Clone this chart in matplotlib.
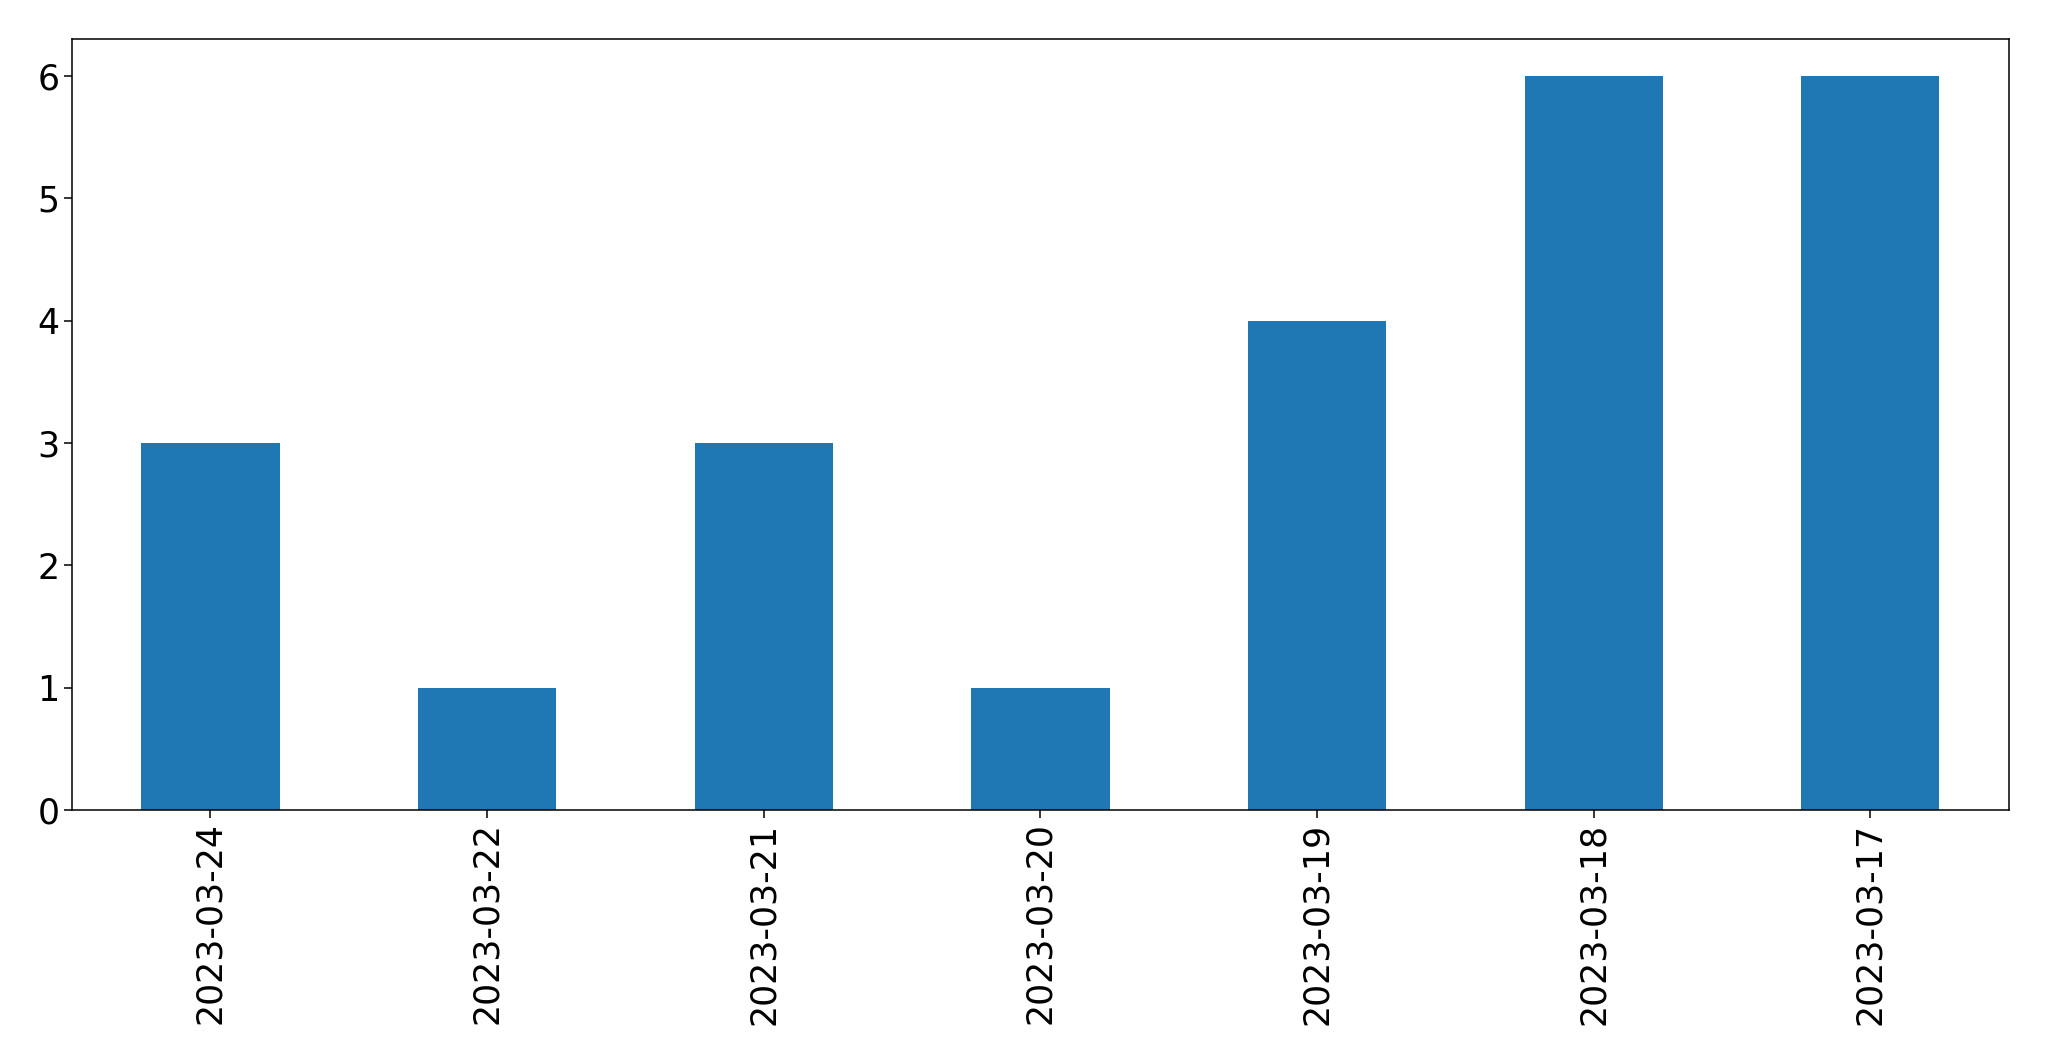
import matplotlib
matplotlib.use("Agg")
import matplotlib.pyplot as plt

# fechas y conteos
fechas = ["2023-03-24", "2023-03-22", "2023-03-21", "2023-03-20",
          "2023-03-19", "2023-03-18", "2023-03-17"]
conteos = [3, 1, 3, 1, 4, 6, 6]

fig = plt.figure(figsize=(20.49, 10.61), dpi=100)
ax = fig.add_axes([0.0352, 0.2366, 0.9451, 0.7264])

pos = range(len(fechas))
ax.bar(pos, conteos, width=0.5, color="#1f77b4")
ax.set_xticks(list(pos))
ax.set_xticklabels(fechas, rotation=90)
ax.set_xlim(-0.5, len(fechas) - 0.5)
ax.set_ylim(0, 6.3)
ax.tick_params(labelsize=25, length=5.5, width=1.1)
for s in ax.spines.values():
    s.set_linewidth(1.1)

fig.savefig("out.png", dpi=100)
